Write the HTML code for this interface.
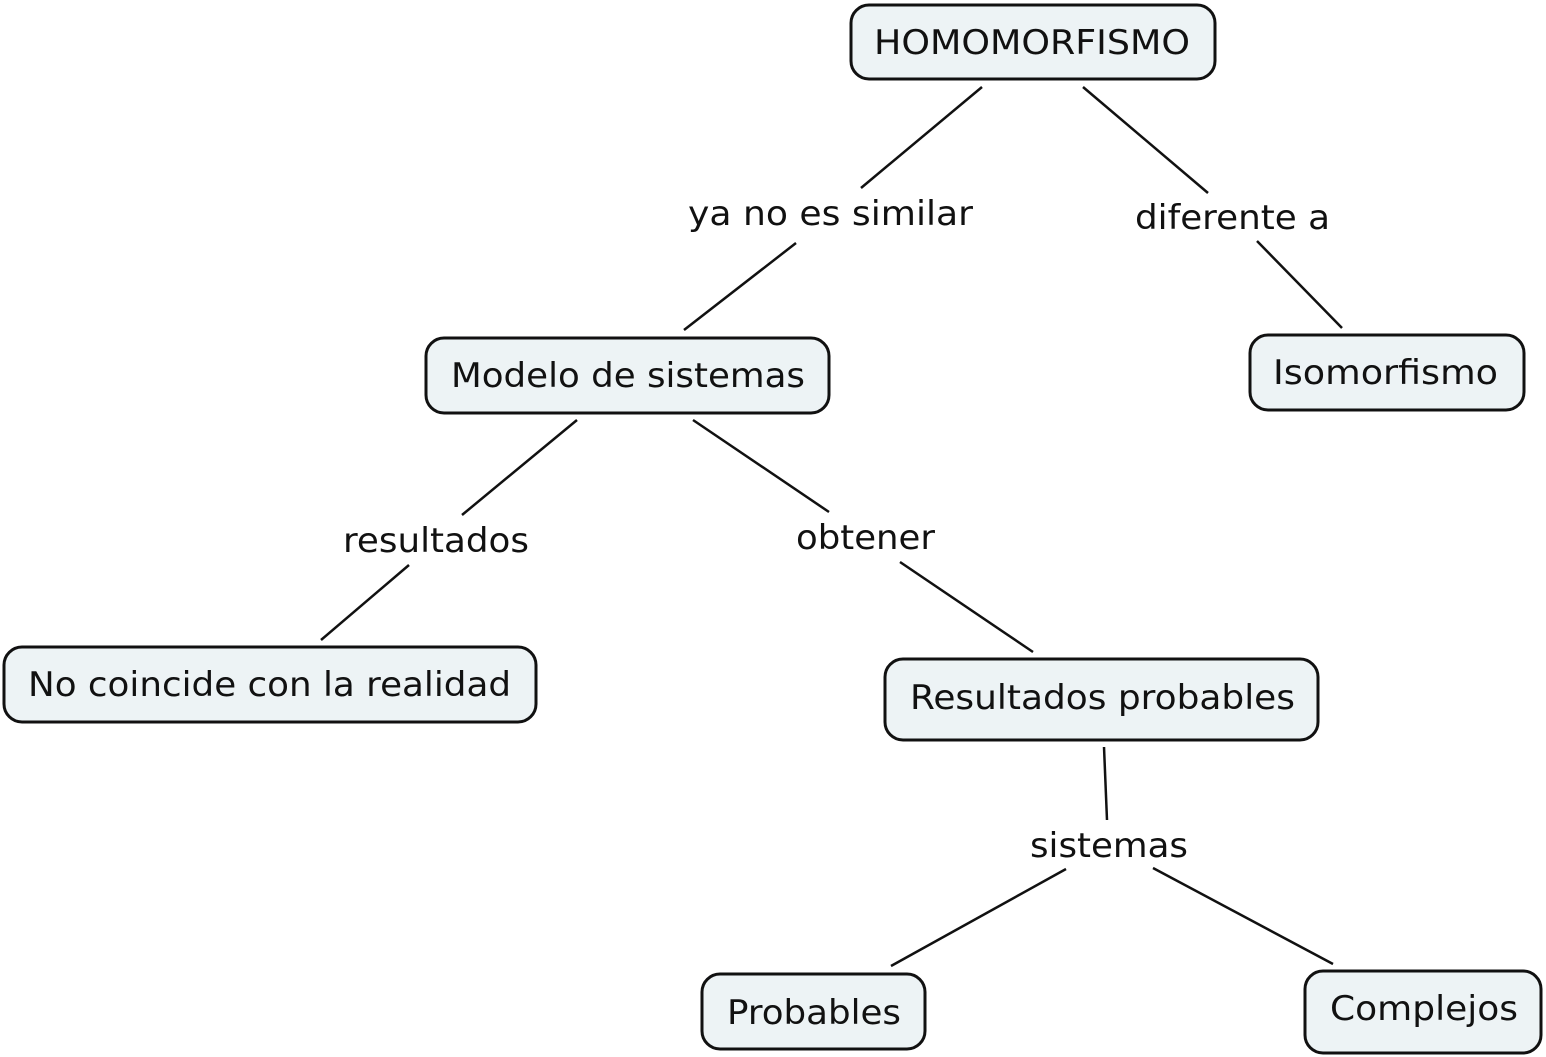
<!DOCTYPE html>
<html><head><meta charset="utf-8"><style>
html,body{margin:0;padding:0;background:#fff;}
svg{display:block;}
text{font-family:"DejaVu Sans","Liberation Sans",sans-serif;font-size:34px;fill:#111;}
</style></head><body>
<svg width="1546" height="1057" viewBox="0 0 1546 1057" xmlns="http://www.w3.org/2000/svg">
<g stroke="#111" stroke-width="2.5" fill="none">
<line x1="982" y1="87" x2="861" y2="188"/>
<line x1="796" y1="243" x2="684" y2="330"/>
<line x1="1083" y1="87" x2="1208" y2="193"/>
<line x1="1257" y1="241" x2="1342" y2="328"/>
<line x1="577" y1="420" x2="462" y2="515"/>
<line x1="409" y1="565" x2="321" y2="640"/>
<line x1="693" y1="420" x2="829" y2="512"/>
<line x1="900" y1="562" x2="1033" y2="652"/>
<line x1="1104" y1="747" x2="1107" y2="820"/>
<line x1="1066" y1="869" x2="891" y2="966"/>
<line x1="1153" y1="868" x2="1333" y2="964"/>
</g>
<g stroke="#111" stroke-width="3" fill="#edf3f5">
<rect x="851" y="5" width="364" height="74" rx="18"/>
<rect x="426" y="338" width="403" height="75" rx="18"/>
<rect x="1250" y="335" width="274" height="75" rx="18"/>
<rect x="4" y="647" width="532" height="75" rx="18"/>
<rect x="885" y="659" width="433" height="81" rx="18"/>
<rect x="702" y="974" width="223" height="75" rx="18"/>
<rect x="1305" y="971" width="236" height="82" rx="18"/>
</g>
<text x="874" y="54" textLength="316" lengthAdjust="spacingAndGlyphs">HOMOMORFISMO</text>
<text x="451" y="387" textLength="354" lengthAdjust="spacingAndGlyphs">Modelo de sistemas</text>
<text x="1273" y="384" textLength="225" lengthAdjust="spacingAndGlyphs">Isomorfismo</text>
<text x="28" y="696" textLength="483" lengthAdjust="spacingAndGlyphs">No coincide con la realidad</text>
<text x="910" y="709" textLength="385" lengthAdjust="spacingAndGlyphs">Resultados probables</text>
<text x="727" y="1024" textLength="174" lengthAdjust="spacingAndGlyphs">Probables</text>
<text x="1330" y="1020" textLength="188" lengthAdjust="spacingAndGlyphs">Complejos</text>
<text x="688" y="225" textLength="285" lengthAdjust="spacingAndGlyphs">ya no es similar</text>
<text x="1135" y="229" textLength="195" lengthAdjust="spacingAndGlyphs">diferente a</text>
<text x="343" y="552" textLength="186" lengthAdjust="spacingAndGlyphs">resultados</text>
<text x="796" y="549" textLength="139" lengthAdjust="spacingAndGlyphs">obtener</text>
<text x="1030" y="857" textLength="158" lengthAdjust="spacingAndGlyphs">sistemas</text>
</svg>
</body></html>
